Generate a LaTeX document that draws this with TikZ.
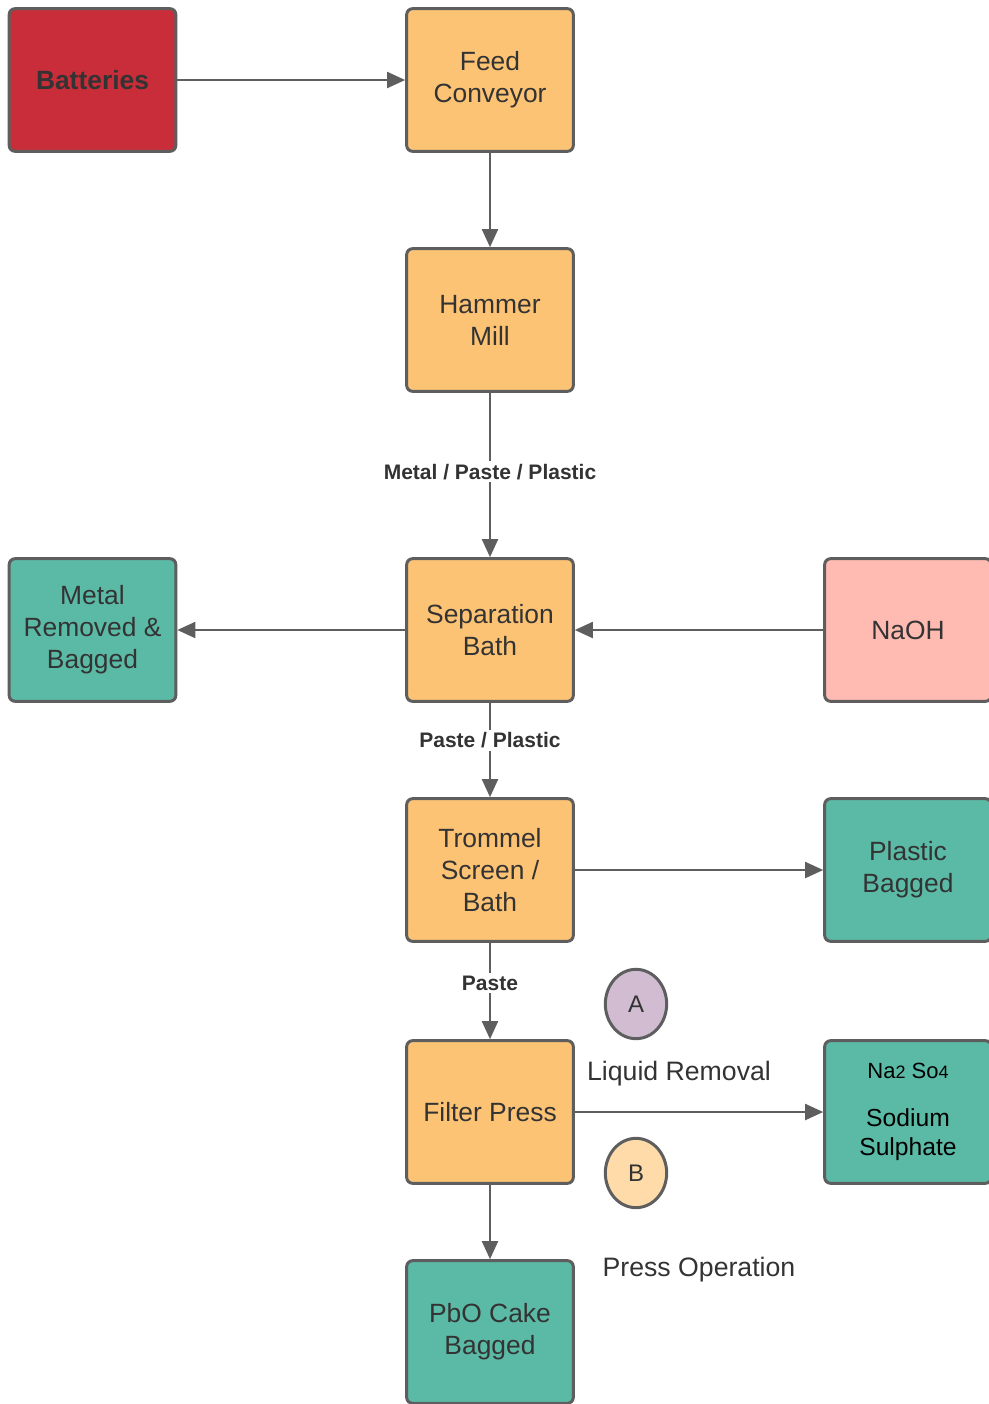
\documentclass[tikz,border=0pt]{standalone}
\usepackage{fontspec}
\setmainfont{Liberation Sans}
\usetikzlibrary{arrows.meta,shapes.geometric}
\definecolor{bordc}{HTML}{5E5E5E}
\definecolor{txtc}{HTML}{333333}
\definecolor{orangec}{HTML}{FDC375}
\definecolor{redc}{HTML}{C92D39}
\definecolor{tealc}{HTML}{5BBAA6}
\definecolor{pinkc}{HTML}{FFBBB1}
\definecolor{purplec}{HTML}{D1BCD2}
\definecolor{peachc}{HTML}{FFDBA9}
\tikzset{
  box/.style={draw=bordc, line width=2.25pt, rounded corners=4.5pt, minimum width=125pt, minimum height=107pt, align=center, text=txtc, font=\fontsize{19.8}{24}\selectfont, inner sep=2pt},
  orangebox/.style={box, fill=orangec},
  tealbox/.style={box, fill=tealc},
  circ/.style={ellipse, draw=bordc, line width=2.25pt, minimum width=46pt, minimum height=52pt, inner sep=0pt, text=txtc, font=\fontsize{18}{22}\selectfont},
  conn/.style={draw=bordc, line width=1.5pt, -{Triangle[length=13.5pt,width=12pt]}},
  elabel/.style={fill=white, text=txtc, font=\fontsize{15.75}{19}\selectfont\bfseries, inner sep=2pt},
  plain/.style={text=txtc, font=\fontsize{20}{24}\selectfont, inner sep=0pt}
}
\begin{document}
\begin{tikzpicture}[x=0.75pt,y=-0.75pt]
\useasboundingbox (0,0) rectangle (989,1404);
\node[box, fill=redc, font=\fontsize{19.8}{24}\selectfont\bfseries] (bat) at (92.5,80) {Batteries};
\node[orangebox] (feed) at (490,80) {Feed\\Conveyor};
\node[orangebox] (ham) at (490,320) {Hammer\\Mill};
\node[orangebox] (sep) at (490,630) {Separation\\Bath};
\node[tealbox] (metal) at (92.5,630) {Metal\\Removed \&\\Bagged};
\node[box, fill=pinkc] (naoh) at (908,630) {NaOH};
\node[orangebox] (trom) at (490,870) {Trommel\\Screen /\\Bath};
\node[tealbox] (plast) at (908,870) {Plastic\\Bagged};
\node[orangebox] (filt) at (490,1112) {Filter Press};
\node[tealbox, text=black] (na2) at (908,1112) {{\fontsize{16.5}{20}\selectfont Na{\fontsize{13.5}{16}\selectfont 2} So{\fontsize{13.5}{16}\selectfont 4}}\\[12pt]{\fontsize{18.5}{20}\selectfont Sodium}\\[-2pt]{\fontsize{18.5}{20}\selectfont Sulphate}};
\node[tealbox] (pbo) at (490,1332) {PbO Cake\\Bagged};
\node[circ, fill=purplec] (ca) at (636,1004) {A};
\node[circ, fill=peachc] (cb) at (636,1173) {B};
\node[plain] (lr) at (679,1074) {Liquid Removal};
\node[plain] (po) at (699,1270) {Press Operation};

\draw[conn] (bat) -- (feed);
\draw[conn] (feed) -- (ham);
\draw[conn] (ham) -- node[elabel, pos=0.48] (l1) {Metal / Paste / Plastic} (sep);
\draw[conn] (sep) -- (metal);
\draw[conn] (naoh) -- (sep);
\draw[conn] (sep) -- node[elabel, pos=0.4] (l2) {Paste / Plastic} (trom);
\draw[conn] (trom) -- (plast);
\draw[conn] (trom) -- node[elabel, pos=0.42] (l3) {Paste} (filt);
\draw[conn] (filt) -- (na2);
\draw[conn] (filt) -- (pbo);
\end{tikzpicture}
\end{document}
